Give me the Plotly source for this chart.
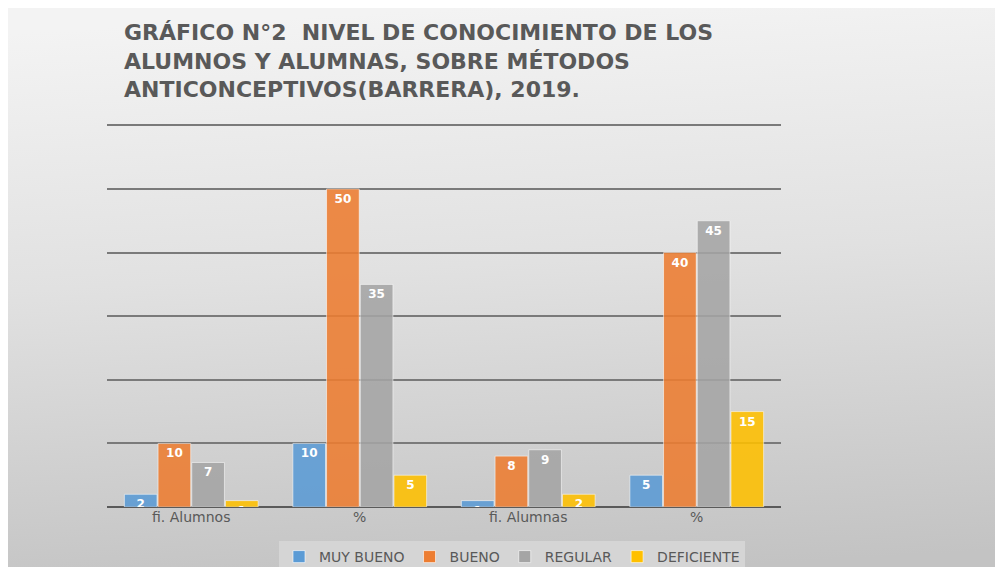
import base64
import plotly.graph_objects as go

categories = ["fi. Alumnos", "%", "fi. Alumnas", "%"]
series_names = ["MUY BUENO", "BUENO", "REGULAR", "DEFICIENTE"]
muy_bueno = [2, 10, 1, 5]
bueno = [10, 50, 8, 40]
regular = [7, 35, 9, 45]
deficiente = [1, 5, 2, 15]
y_ticks = [0, 10, 20, 30, 40, 50, 60]
title_lines = [
    "GRÁFICO N°2  NIVEL DE CONOCIMIENTO DE LOS",
    "ALUMNOS Y ALUMNAS, SOBRE MÉTODOS",
    "ANTICONCEPTIVOS(BARRERA), 2019.",
]

colors = ["#5B9BD5", "#ED7D31", "#A5A5A5", "#FFC000"]
values = [muy_bueno, bueno, regular, deficiente]
xpos = list(range(len(categories)))

W, H = 1003, 567
L, R, T, B = 99, 230, 111, 68
pw, ph = W - L - R, H - T - B

fig = go.Figure()
for name, vals, col in zip(series_names, values, colors):
    fig.add_trace(go.Bar(
        x=xpos, y=vals, name=name,
        marker=dict(color=col, opacity=0.88, line=dict(color="rgba(255,255,255,0.6)", width=1)),
        text=[str(v) for v in vals],
        textposition="inside", insidetextanchor="end", constraintext="none",
        textangle=0,
        textfont=dict(family="DejaVu Sans", size=12, color="white", weight="bold"),
        hoverinfo="skip",
    ))

svg = (
    '<svg xmlns="http://www.w3.org/2000/svg" width="1003" height="567" viewBox="0 0 1003 567" preserveAspectRatio="none">'
    '<defs><linearGradient id="g" x1="0.45" y1="0" x2="0.55" y2="1">'
    '<stop offset="0" stop-color="#f3f3f3"/><stop offset="0.45" stop-color="#e1e1e1"/>'
    '<stop offset="1" stop-color="#c3c3c3"/></linearGradient></defs>'
    '<rect width="1003" height="567" fill="url(#g)"/></svg>'
)
src = "data:image/svg+xml;base64," + base64.b64encode(svg.encode()).decode()

fig.add_layout_image(dict(
    source=src, xref="paper", yref="paper",
    x=-L / pw, y=1 + T / ph, sizex=W / pw, sizey=H / ph,
    xanchor="left", yanchor="top", sizing="stretch", layer="below",
))

fig.add_annotation(
    text="<br>".join(title_lines), xref="paper", yref="paper",
    x=(114 - L) / pw, y=1 + (T - 10) / ph,
    xanchor="left", yanchor="top", align="left", showarrow=False,
    font=dict(family="DejaVu Sans", size=22, color="#595959", weight="bold"),
)

fig.update_layout(
    width=W, height=H,
    margin=dict(l=L, r=R, t=T, b=B, pad=0, autoexpand=False),
    paper_bgcolor="white", plot_bgcolor="rgba(0,0,0,0)",
    barmode="group", bargap=0.2, bargroupgap=0.03,
    uniformtext=dict(mode="show", minsize=12),
    showlegend=True,
    legend=dict(
        orientation="h", x=(504 - L) / pw, xanchor="center",
        y=(H - B - 549) / ph, yanchor="middle",
        bgcolor="#d5d5d5", font=dict(family="DejaVu Sans", size=14, color="#595959"),
        itemwidth=30, tracegroupgap=0,
    ),
    xaxis=dict(
        tickvals=xpos, ticktext=categories, range=[-0.5, len(categories) - 0.5],
        showgrid=False, zeroline=False, showline=False, ticks="",
        tickfont=dict(family="DejaVu Sans", size=14, color="#595959"),
    ),
    yaxis=dict(
        range=[0, 61], tickvals=y_ticks, showticklabels=False,
        showgrid=True, gridcolor="#7a7a7a", gridwidth=1.5,
        zeroline=True, zerolinecolor="#5a5a5a", zerolinewidth=2,
        showline=False, ticks="",
    ),
)

fig.write_html("out.html")
